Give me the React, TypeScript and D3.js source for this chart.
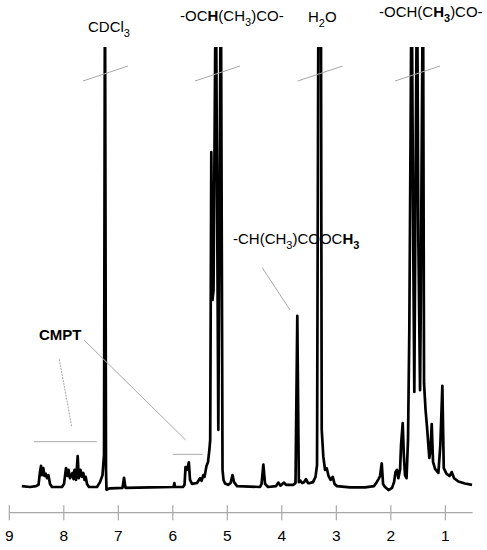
import React from 'react';
import * as d3 from 'd3';

// chemical shift (ppm) of each trace point
const shifts = [
  8.77, 8.62, 8.51, 8.464, 8.437, 8.418, 8.4, 8.376, 8.354, 8.332,
  8.308, 8.281, 8.253, 8.217, 8.033, 7.996, 7.96, 7.932, 7.914, 7.886,
  7.84, 7.822, 7.804, 7.776, 7.745, 7.725, 7.694, 7.666, 7.642, 7.62,
  7.598, 7.574, 7.538, 7.391, 7.336, 7.29, 7.262, 7.245, 7.226, 7.217,
  7.152, 6.923, 6.895, 6.868, 6.418, 5.987, 5.972, 5.96, 5.813, 5.785,
  5.767, 5.739, 5.706, 5.684, 5.648, 5.556, 5.501, 5.473, 5.44, 5.418,
  5.382, 5.354, 5.33, 5.314, 5.294, 5.272, 5.253, 5.211, 5.165, 5.119,
  5.088, 5.07, 5.042, 4.987, 4.941, 4.905, 4.877, 4.822, 4.4, 4.372,
  4.339, 4.308, 4.253, 4.106, 4.064, 4.024, 3.96, 3.923, 3.794, 3.749,
  3.716, 3.688, 3.666, 3.629, 3.593, 3.556, 3.519, 3.483, 3.428, 3.382,
  3.354, 3.327, 3.284, 3.268, 3.239, 3.207, 3.176, 3.143, 3.106, 3.066,
  3.033, 2.987, 2.749, 2.473, 2.308, 2.259, 2.226, 2.198, 2.167, 2.143,
  2.107, 2.042, 1.978, 1.941, 1.914, 1.886, 1.862, 1.831, 1.813, 1.782,
  1.762, 1.74, 1.712, 1.685, 1.661, 1.639, 1.619, 1.587, 1.569, 1.541,
  1.519, 1.495, 1.477, 1.464, 1.45, 1.437, 1.41, 1.391, 1.363, 1.336,
  1.294, 1.272, 1.25, 1.226, 1.189, 1.128, 1.092, 1.055, 1.029, 0.978,
  0.923, 0.883, 0.84, 0.761, 0.639, 0.51,
];

// relative intensity at each point (100 = top of the plot, taller peaks are cut off)
const intensities = [
  0.2, 0, 0.2, 0.5, 3.4, 4.8, 2.7, 4.3, 2.5, 3.0,
  2.0, 2.7, 0.7, 0, 0, 0.7, 4.3, 2.5, 3.9, 2.0,
  3.2, 1.8, 3.9, 1.6, 7.0, 2.0, 3.9, 2.3, 3.2, 1.6,
  2.3, 0.7, 0, 0, 1.1, 2.7, 7.3, 120, 3.9, -0.6,
  -0.3, -0.2, 2.1, -0.2, -0.1, 0, 0.9, 0, 0, 0.5,
  4.5, 3.9, 5.6, 1.6, 0.7, 0.9, 2.0, 1.4, 2.7, 2.3,
  4.8, 5.7, 8.4, 10.7, 76.1, 42.5, 44.8, 120, 13.0, 120,
  3.9, 1.6, 0.8, 0.5, 0.9, 2.7, 1.1, 0.2, 0, 0.7,
  5.1, 0.7, 0, 0.2, 1.0, 0.3, 1.0, 0.5, 0.5, 0.9,
  38.9, 1.1, 1.5, 0.9, 1.1, 1.8, 0.9, 0.9, 1.1, 2.3,
  5.0, 120, 120, 13.0, 6.9, 3.9, 4.25, 2.5, 1.6, 2.3,
  0.7, 0.2, -0.07, -0.1, 0.2, 1.1, 1.8, 2.5, 5.4, 0.7,
  0, -0.7, -0.2, 1.1, 3.4, 3.9, 2.0, 3.9, 9.5, 14.5,
  7.3, 2.7, 2.0, 10.7, 35.7, 78.9, 120, 51.6, 21.6, 79.5,
  120, 56.1, 35.7, 22, 42.5, 70.9, 120, 23.6, 17.5, 13.6,
  6.6, 8.4, 14.3, 5.7, 4.1, 3.2, 9.5, 23.0, 4.3, 3.0,
  2.5, 3.4, 2.0, 1.25, 0.8, 0.5,
];

const tickValues = [9, 8, 7, 6, 5, 4, 3, 2, 1];

// peaks that run off the top of the plot, marked with a break
const brokenPeaks = [7.245, 5.19, 3.305, 1.52];

const WIDTH = 487;
const HEIGHT = 550;
const GRAY = '#a8a8a8';
const FONT = '"Liberation Sans", Arial, Helvetica, sans-serif';

const App = () => {
  const x = d3.scaleLinear().domain([9, 0.5]).range([9.3, 472.6]);
  const y = d3.scaleLinear().domain([0, 100]).range([487, 47]);

  const points = shifts.map((s, i) => [s, intensities[i]] as [number, number]);
  const line = d3
    .line<[number, number]>()
    .x((d) => x(d[0]))
    .y((d) => y(d[1]));

  const axisY = 512.7;
  const sub = { fontSize: 11 };

  return (
    <div style={{ position: 'absolute', left: 0, top: 0 }}>
      <svg width={WIDTH} height={HEIGHT} style={{ display: 'block', background: '#fff' }}>
        <defs>
          <clipPath id='plot-clip'>
            <rect x={0} y={y(100)} width={WIDTH} height={HEIGHT - y(100)} />
          </clipPath>
        </defs>

        {/* axis */}
        <line x1={x(9)} x2={x(0.5)} y1={axisY} y2={axisY} stroke={GRAY} strokeWidth={1.2} />
        {tickValues.map((t) => (
          <g key={t}>
            <line x1={x(t)} x2={x(t)} y1={axisY - 7.5} y2={axisY + 7.5} stroke={GRAY} strokeWidth={1.2} />
            <text x={x(t)} y={541} textAnchor='middle' fontFamily={FONT} fontSize={15.5} fill='#000'>
              {t}
            </text>
          </g>
        ))}

        {/* spectrum */}
        <path
          d={line(points) || ''}
          clipPath='url(#plot-clip)'
          fill='none'
          stroke='#000'
          strokeWidth={2.7}
          strokeLinejoin='round'
        />

        {/* breaks across the cut peaks */}
        {brokenPeaks.map((p) => (
          <line
            key={p}
            x1={x(p) - 22}
            y1={y(100) + 34}
            x2={x(p) + 23}
            y2={y(100) + 19}
            stroke={GRAY}
            strokeWidth={1}
          />
        ))}

        {/* pointer lines */}
        <g stroke={GRAY} strokeWidth={1}>
          <line x1={59.3} y1={359.3} x2={71.7} y2={426.7} strokeDasharray='2,1' />
          <line x1={34} y1={441.7} x2={96.7} y2={441.7} />
          <line x1={84} y1={340} x2={185.7} y2={440} />
          <line x1={172.7} y1={454.3} x2={202.7} y2={454.3} />
          <line x1={262.3} y1={267.7} x2={290} y2={310} />
        </g>

        {/* labels */}
        <g fontFamily={FONT} fontSize={15} fill='#000'>
          <text x={88} y={32}>
            CDCl<tspan dy={5} {...sub}>3</tspan>
          </text>
          <text x={180} y={21}>
            -OC<tspan fontWeight='bold'>H</tspan>(CH<tspan dy={5} {...sub}>3</tspan>
            <tspan dy={-5}>)CO-</tspan>
          </text>
          <text x={308} y={22}>
            H<tspan dy={5} {...sub}>2</tspan>
            <tspan dy={-5}>O</tspan>
          </text>
          <text x={379} y={16.5}>
            -OCH(C<tspan fontWeight='bold'>H</tspan>
            <tspan dy={5} fontWeight='bold' {...sub}>3</tspan>
            <tspan dy={-5}>)CO-</tspan>
          </text>
          <text x={233} y={244}>
            -CH(CH<tspan dy={5} {...sub}>3</tspan>
            <tspan dy={-5}>)COOC</tspan>
            <tspan fontWeight='bold'>H</tspan>
            <tspan dy={5} fontWeight='bold' {...sub}>3</tspan>
          </text>
          <text x={39} y={340} fontWeight='bold'>
            CMPT
          </text>
        </g>
      </svg>
    </div>
  );
};

export default App;
